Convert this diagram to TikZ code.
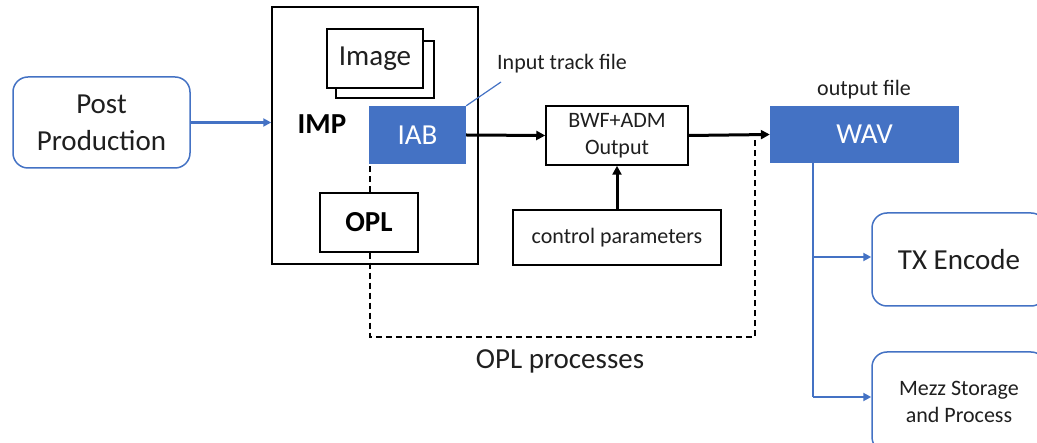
\documentclass[tikz,border=0pt]{standalone}
\usepackage{fontspec}
\setmainfont{Carlito}
\usetikzlibrary{arrows.meta}
\definecolor{accent}{HTML}{4472C4}
\definecolor{txt}{HTML}{1F1F1F}
\tikzset{
  box/.style={draw=black, line width=1.5pt, fill=white, inner sep=0pt, text=txt},
  rbox/.style={draw=accent, line width=1.5pt, rounded corners=15pt, fill=white, inner sep=0pt, text=txt, align=center},
  fbox/.style={fill=accent, inner sep=0pt, text=white},
  blk/.style={line width=3pt, -{Triangle[length=9pt,width=9pt]}},
  blu/.style={draw=accent, line width=2.5pt, -{Triangle[length=8pt,width=8pt]}},
  dsh/.style={line width=1.5pt, dash pattern=on 6pt off 4pt},
  big/.style={font=\fontsize{29}{37}\selectfont},
  small/.style={font=\fontsize{22}{27}\selectfont},
}
\begin{document}
\begin{tikzpicture}[x=1pt,y=-1pt]
\useasboundingbox (0,0) rectangle (1037,443);
\clip (0,0) rectangle (1037,443);
% Post production
\node[rbox, big, minimum width=177pt, minimum height=91pt] (post) at (101.5,122.5) {Post\\Production};
% IMP
\node[box, minimum width=206pt, minimum height=257pt] (imp) at (375,135.5) {};
\node[box, minimum width=98pt, minimum height=57pt] (imgback) at (385,69.5) {};
\node[box, big, minimum width=96pt, minimum height=59pt] (img) at (375,58.5) {Image};
\node[text=black, font=\fontsize{29}{37}\selectfont\bfseries] (imptxt) at (322,124) {IMP};
\node[fbox, big, minimum width=97pt, minimum height=58pt] (iab) at (417.5,135) {IAB};
\node[box, text=black, font=\fontsize{29}{37}\selectfont\bfseries, minimum width=98pt, minimum height=59pt] (opl) at (369,222.5) {OPL};
% Input track file
\node[small, text=txt] (itf) at (562,64) {Input track file};
\coordinate (lead) at (501,82);
\draw[accent, line width=1.2pt] (iab.north east) -- (lead);
% BWF
\node[box, small, align=center, minimum width=142pt, minimum height=59pt] (bwf) at (617,135.5) {BWF+ADM\\Output};
\node[box, small, minimum width=208pt, minimum height=55pt] (ctrl) at (617,237.5) {control parameters};
% WAV
\node[fbox, big, minimum width=189pt, minimum height=57pt] (wav) at (864.5,134.5) {WAV};
\node[small, text=txt] (outf) at (864,90) {output file};
% arrows
\draw[blu] (post.east) -- (post.east -| imp.west);
\draw[blk] (iab.east) -- (bwf.west);
\draw[blk] (ctrl.north) -- (bwf.south);
\draw[blk] (bwf.east) -- (wav.west);
% dashed OPL path
\coordinate (dl) at (370,337);
\coordinate (dr) at (755,337);
\coordinate (dt) at (755,137);
\draw[dsh] (opl.north -| dl) -- (iab.south -| dl);
\draw[dsh] (opl.south -| dl) -- (dl) -- (dr) -- (dt);
\node[big, text=txt] (oplp) at (560,361) {OPL processes};
% right side
\node[rbox, big, minimum width=174pt, minimum height=93pt] (tx) at (959,259.5) {TX Encode};
\node[rbox, small, minimum width=174pt, minimum height=100pt] (mezz) at (959,402) {Mezz Storage\\and Process};
\coordinate (trunk) at (813,163);
\coordinate (b1) at (813,257);
\coordinate (b2) at (813,397);
\draw[accent, line width=2.5pt] (trunk) -- (b2);
\draw[blu] (b1) -- (b1 -| tx.west);
\draw[blu] (b2) -- (b2 -| mezz.west);
\end{tikzpicture}
\end{document}
